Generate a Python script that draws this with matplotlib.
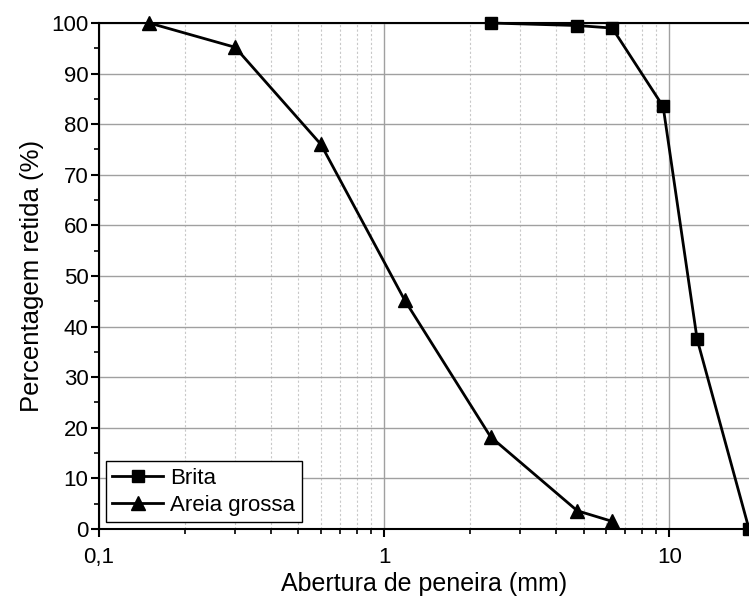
import matplotlib
matplotlib.use('Agg')
import matplotlib.pyplot as plt
import matplotlib.ticker as mticker
import numpy as np

plt.rcParams['font.family'] = ['Liberation Sans', 'DejaVu Sans']

# Abertura de peneira (mm) and percentagem retida (%)
brita_x = [2.36, 4.75, 6.3, 9.5, 12.5, 19.0]
brita_y = [100.0, 99.5, 99.0, 83.5, 37.5, 0.0]
areia_x = [0.15, 0.3, 0.6, 1.18, 2.36, 4.75, 6.3]
areia_y = [100.0, 95.2, 76.0, 45.2, 18.2, 3.6, 1.5]

fig = plt.figure(figsize=(7.49, 5.99), dpi=100)
ax = fig.add_axes([0.1322, 0.1169, 0.8678, 0.8447])

ax.plot(brita_x, brita_y, color='black', linewidth=2, marker='s', markersize=8,
        label='Brita', clip_on=False, zorder=5)
ax.plot(areia_x, areia_y, color='black', linewidth=2, marker='^', markersize=9.5,
        label='Areia grossa', clip_on=False, zorder=5)

ax.set_xscale('log')
ax.set_xlim(0.1, 19.0)
ax.set_ylim(0, 100)
ax.set_yticks(np.arange(0, 101, 10))
ax.yaxis.set_minor_locator(mticker.MultipleLocator(5))
ax.xaxis.set_major_locator(mticker.FixedLocator([0.1, 1, 10]))
ax.xaxis.set_major_formatter(mticker.FixedFormatter(['0,1', '1', '10']))
ax.xaxis.set_minor_locator(mticker.LogLocator(base=10, subs=np.arange(2, 10)))
ax.xaxis.set_minor_formatter(mticker.NullFormatter())

ax.grid(which='major', axis='both', color='#a0a0a0', linewidth=1, linestyle='-')
ax.grid(which='minor', axis='x', color='#c8c8c8', linewidth=0.8, linestyle=(0, (2, 2)))
ax.set_axisbelow(True)

ax.spines['right'].set_visible(False)
for s in ['left', 'bottom', 'top']:
    ax.spines[s].set_linewidth(1.5)

ax.tick_params(which='major', direction='out', length=6, width=1.5, labelsize=16)
ax.tick_params(which='minor', direction='out', length=3.5, width=1.2)
ax.tick_params(axis='y', which='major', pad=1.5)
ax.tick_params(axis='x', which='major', pad=7)
ax.tick_params(top=False, right=False)

ax.set_xlabel('Abertura de peneira (mm)', fontsize=18, labelpad=3)
ax.set_ylabel('Percentagem retida (%)', fontsize=18.5, labelpad=5)

leg = ax.legend(loc='lower left', fontsize=16, fancybox=False, framealpha=1,
                edgecolor='black', handlelength=2.3, borderpad=0.3,
                labelspacing=0.25, handletextpad=0.3, borderaxespad=0.3)
leg.get_frame().set_linewidth(1)

fig.savefig('out.png', dpi=100)
